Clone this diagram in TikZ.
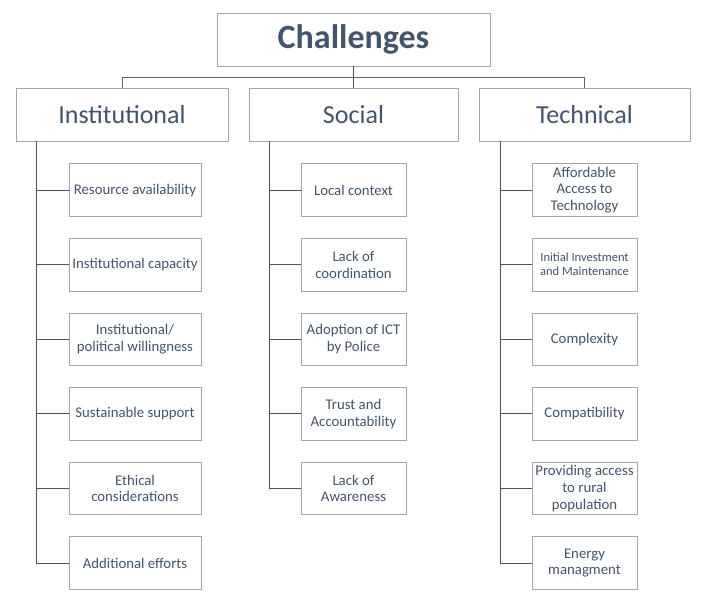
\documentclass[tikz,border=0pt]{standalone}
\usepackage{fontspec}
\setmainfont{Carlito}
\usepackage{xcolor}
\usetikzlibrary{positioning}
\definecolor{chtext}{HTML}{44546A}
\definecolor{chline}{HTML}{44546A}
\definecolor{chbar}{HTML}{5F6876}
\definecolor{chedge}{HTML}{A6A6A6}
\tikzset{
  rootbox/.style={draw=chedge, line width=0.9pt, fill=white, text=chtext, minimum width=273pt, minimum height=53pt, font=\fontsize{34}{40}\selectfont\bfseries},
  headbox/.style={draw=chedge, line width=0.9pt, fill=white, text=chtext, minimum width=212pt, minimum height=53pt, font=\fontsize{26}{30}\selectfont},
  itembox/.style={draw=chedge, line width=0.8pt, fill=white, text=chtext, align=center, minimum width=105pt, minimum height=52.5pt, inner sep=1pt, font=\fontsize{14.8}{16.8}\selectfont},
  link/.style={draw=chline, line width=1pt},
  node distance=21.3pt,
}
\begin{document}
\begin{tikzpicture}[x=1pt, y=-1pt]
  \useasboundingbox (0,0) rectangle (704,601);
  \node[rootbox] (root) at (353.5,39.5) {Challenges};
  \node[headbox] (inst) at (122,114.5) {Institutional};
  \node[headbox, minimum width=209pt] (soc) at (353.5,114.5) {Social};
  \node[headbox, minimum width=211pt] (tech) at (584.5,114.5) {Technical};
  % institutional column
  \node[itembox, minimum width=132pt, below=22pt of inst.south, xshift=13pt, anchor=north] (i1) {Resource availability};
  \node[itembox, minimum width=132pt, below=of i1] (i2) {Institutional capacity};
  \node[itembox, minimum width=132pt, below=of i2] (i3) {Institutional/\\ political willingness};
  \node[itembox, minimum width=132pt, below=of i3] (i4) {Sustainable support};
  \node[itembox, minimum width=132pt, below=of i4] (i5) {Ethical\\ considerations};
  \node[itembox, minimum width=132pt, below=of i5] (i6) {Additional efforts};
  % social column
  \node[itembox, below=22pt of soc.south, anchor=north] (s1) {Local context};
  \node[itembox, below=of s1] (s2) {Lack of\\ coordination};
  \node[itembox, below=of s2] (s3) {Adoption of ICT\\ by Police};
  \node[itembox, below=of s3] (s4) {Trust and\\ Accountability};
  \node[itembox, below=of s4] (s5) {Lack of\\ Awareness};
  % technical column
  \node[itembox, below=22pt of tech.south, anchor=north] (t1) {Affordable\\ Access to\\ Technology};
  \node[itembox, below=of t1, font=\fontsize{12.5}{14}\selectfont] (t2) {Initial Investment\\ and Maintenance};
  \node[itembox, below=of t2] (t3) {Complexity};
  \node[itembox, below=of t3] (t4) {Compatibility};
  \node[itembox, below=of t4] (t5) {Providing access\\ to rural\\ population};
  \node[itembox, below=of t5] (t6) {Energy\\ managment};
  % connectors
  \coordinate (bar) at ([yshift=-11pt]root.south);
  \draw[link, draw=chbar] (inst.north) |- (bar) -| (tech.north);
  \draw[link] (root.south) -- (soc.north);
  \coordinate (ispine) at ([xshift=21pt]inst.south west);
  \coordinate (sspine) at ([xshift=21pt]soc.south west);
  \coordinate (tspine) at ([xshift=22pt]tech.south west);
  \draw[link] (ispine) |- (i6.west);
  \draw[link] (sspine) |- (s5.west);
  \draw[link] (tspine) |- (t6.west);
  \foreach \n in {1,...,5} {
    \draw[link] (i\n.west) -- (i\n.west -| ispine);
    \draw[link] (s\n.west) -- (s\n.west -| sspine);
    \draw[link] (t\n.west) -- (t\n.west -| tspine);
  }
\end{tikzpicture}
\end{document}
